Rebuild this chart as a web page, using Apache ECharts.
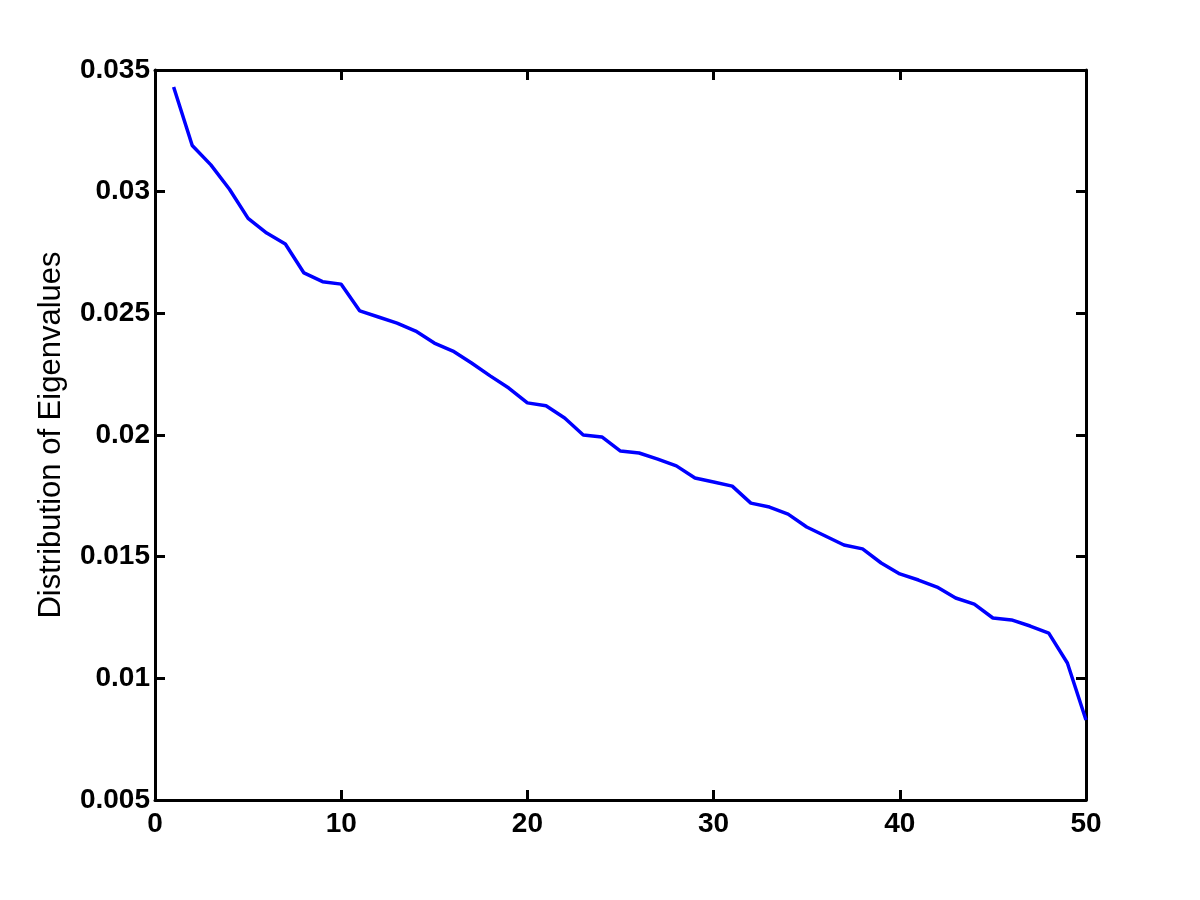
<!DOCTYPE html>
<html>
<head>
<meta charset="utf-8">
<script src="https://cdn.jsdelivr.net/npm/echarts@6/dist/echarts.min.js"></script>
<style>
  html, body { margin: 0; padding: 0; background: #fff; }
  #chart { width: 1200px; height: 900px; }
</style>
</head>
<body>
<div id="chart"></div>
<script>
// index of each eigenvalue
const index = [1, 2, 3, 4, 5, 6, 7, 8, 9, 10,
  11, 12, 13, 14, 15, 16, 17, 18, 19, 20,
  21, 22, 23, 24, 25, 26, 27, 28, 29, 30,
  31, 32, 33, 34, 35, 36, 37, 38, 39, 40,
  41, 42, 43, 44, 45, 46, 47, 48, 49, 50];
// values
const eigen = [0.0343, 0.0319, 0.0311, 0.0301, 0.0289, 0.0283, 0.02785, 0.02666, 0.0263, 0.0262,
  0.0251, 0.02485, 0.0246, 0.02427, 0.02378, 0.02345, 0.02296, 0.02243, 0.02193, 0.02132,
  0.0212, 0.0207, 0.0200, 0.01992, 0.01934, 0.01926, 0.01901, 0.01873, 0.01823, 0.01807,
  0.0179, 0.0172, 0.01704, 0.01675, 0.01622, 0.01585, 0.01548, 0.01532, 0.01474, 0.01429,
  0.01404, 0.01375, 0.0133, 0.01305, 0.01248, 0.0124, 0.01215, 0.01186, 0.01063, 0.00829];
const xTicks = [0, 10, 20, 30, 40, 50];
const yTicks = [0.005, 0.01, 0.015, 0.02, 0.025, 0.03, 0.035];

const font = 'Liberation Sans, Arial, sans-serif';
const myChart = echarts.init(document.getElementById('chart'));

// 坐标轴公共样式 (MATLAB 风格：刻度朝内，四边都有)
function axisBase (extra) {
  return Object.assign({
    axisLine: { show: true, onZero: false, lineStyle: { color: '#000', width: 3 } },
    axisTick: { show: true, inside: true, length: 10, lineStyle: { color: '#000', width: 3 } },
    splitLine: { show: false }
  }, extra);
}

const option = {
  animation: false,
  backgroundColor: '#fff',
  grid: { left: 155, right: 114, top: 70, bottom: 100, containLabel: false },
  xAxis: [
    axisBase({
      type: 'value',
      min: xTicks[0],
      max: xTicks[xTicks.length - 1],
      interval: 10,
      axisLabel: { color: '#000', fontFamily: font, fontWeight: 'bold', fontSize: 28, margin: 10 }
    }),
    axisBase({
      type: 'value', position: 'top',
      min: xTicks[0], max: xTicks[xTicks.length - 1], interval: 10,
      axisLabel: { show: false }
    })
  ],
  yAxis: [
    axisBase({
      type: 'value',
      min: yTicks[0],
      max: yTicks[yTicks.length - 1],
      interval: 0.005,
      name: 'Distribution of Eigenvalues',
      nameLocation: 'middle',
      nameGap: 88,
      nameTextStyle: { color: '#000', fontFamily: font, fontSize: 31 },
      axisLabel: {
        color: '#000', fontFamily: font, fontWeight: 'bold', fontSize: 28, margin: 5,
        formatter: function (v) { return String(+v.toFixed(3)); }
      }
    }),
    axisBase({
      type: 'value', position: 'right',
      min: yTicks[0], max: yTicks[yTicks.length - 1], interval: 0.005,
      axisLabel: { show: false }
    })
  ],
  series: [
    {
      type: 'line',
      data: index.map(function (x, i) { return [x, eigen[i]]; }),
      showSymbol: false,
      lineStyle: { color: '#0000FF', width: 3.5 },
      silent: true
    }
  ]
};

myChart.setOption(option);
window.addEventListener('resize', function () {
  myChart.resize();
});
</script>
</body>
</html>
